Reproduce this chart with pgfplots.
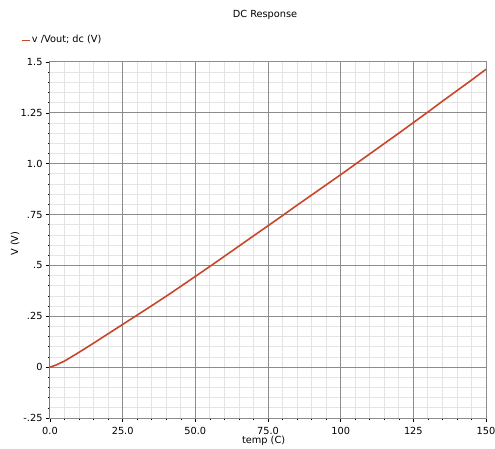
\documentclass[border=0pt]{standalone}
\usepackage{pgfplots}
\pgfplotsset{compat=1.18}
\usepackage{fontspec}
\setmainfont{DejaVu Sans}
\definecolor{curve}{RGB}{200,70,42}
\definecolor{majgrid}{RGB}{140,140,140}
\definecolor{mingrid}{RGB}{228,228,228}
\newcommand{\fs}{\fontsize{9.8}{11}\selectfont}
\begin{document}
\begin{tikzpicture}
\useasboundingbox (0,0) rectangle (495bp,449bp);
\begin{axis}[
  at={(50bp,31bp)}, anchor=south west,
  scale only axis, width=436bp, height=356bp,
  xmin=0, xmax=150, ymin=-0.25, ymax=1.5,
  xtick={0,25,50,75,100,125,150},
  xticklabels={0.0,25.0,50.0,75.0,100,125,150},
  ytick={-0.25,0,0.25,0.5,0.75,1.0,1.25,1.5},
  yticklabels={-.25,0,.25,.5,.75,1.0,1.25,1.5},
  minor tick num=4,
  grid=minor,
  minor grid style={mingrid, line width=0.8bp},
  extra x ticks={25,50,75,100,125},
  extra y ticks={0,0.25,0.5,0.75,1.0,1.25},
  extra tick style={grid=major, major grid style={majgrid, line width=0.8bp},
    tick label style={opacity=0}, major tick length=0pt},
  extra x tick labels={}, extra y tick labels={},
  axis line style={majgrid, line width=1bp},
  tick pos=left, tick align=outside,
  major tick length=4bp, minor tick length=2bp,
  tick style={black, line width=0.6bp},
  ticklabel style={font=\fs},
  xticklabel style={yshift=-2bp},
  /pgf/number format/assume math mode=true,
  xlabel={temp (C)}, ylabel={V (V)},
  label style={font=\fs},
  xlabel style={at={(rel axis cs:0.49,0)}, anchor=center, yshift=-23bp},
  ylabel style={at={(rel axis cs:-0.08,0.49)}, anchor=center},
  legend style={at={(rel axis cs:-0.0665,1.062)}, anchor=west, draw=none, fill=none,
    font=\fs, inner sep=0pt},
  legend image code/.code={\draw[#1, line width=0.8bp] (0bp,0bp) -- (8bp,0bp);},
]
\addplot[curve, line width=1.6bp] coordinates {
(0,0) (2,0.01) (5,0.03) (10,0.073) (15,0.118) (20,0.164) (25,0.21) (30,0.256)
(35,0.302) (40,0.349) (45,0.397) (50,0.446) (55,0.495) (60,0.545) (65,0.595)
(70,0.645) (75,0.695) (80,0.745) (85,0.796) (90,0.846) (95,0.896) (100,0.946)
(105,0.997) (110,1.048) (115,1.099) (120,1.150) (125,1.202) (130,1.254)
(135,1.307) (140,1.359) (145,1.411) (150,1.464)
};
\addlegendentry{v /Vout; dc (V)}
\draw[black, line width=1bp] (rel axis cs:0,1) -- (rel axis cs:0,0) -- (rel axis cs:1,0);
\end{axis}
\node[font=\fs] at (265bp,434bp) {DC Response};
\end{tikzpicture}
\end{document}
